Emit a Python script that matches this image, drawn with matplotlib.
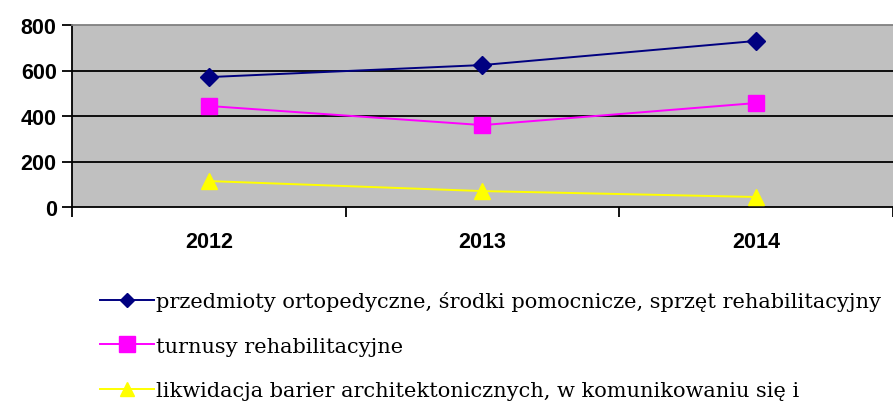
import matplotlib
matplotlib.use("Agg")
import matplotlib.pyplot as plt
from matplotlib.lines import Line2D

years = ["2012", "2013", "2014"]
ortopedyczne = [571, 624, 730]
turnusy = [444, 360, 457]
bariery = [114, 70, 44]
labels = [
    "przedmioty ortopedyczne, środki pomocnicze, sprzęt rehabilitacyjny",
    "turnusy rehabilitacyjne",
    "likwidacja barier architektonicznych, w komunikowaniu się i",
]

fig = plt.figure(figsize=(8.93, 4.10), dpi=100)
ax = fig.add_axes([72 / 893, 1 - 208 / 410, (893 - 72) / 893, 182 / 410])
ax.set_facecolor("#c0c0c0")

x = list(range(len(years)))
ax.plot(x, ortopedyczne, color="#000080", lw=1.4, marker="D", ms=9,
        mfc="#000080", mec="#000080", zorder=3)
ax.plot(x, turnusy, color="#ff00ff", lw=1.4, marker="s", ms=12,
        mfc="#ff00ff", mec="#ff00ff", zorder=3)
ax.plot(x, bariery, color="#ffff00", lw=1.4, marker="^", ms=12,
        mfc="#ffff00", mec="#ffff00", zorder=3)

ax.set_ylim(0, 800)
ax.set_yticks([0, 200, 400, 600, 800])
ax.set_xlim(-0.5, (893 - 72) / 275 - 0.5)
for yv in (200, 400, 600):
    ax.axhline(yv, color="black", lw=1.3, zorder=1)

# boundary ticks between categories, labels centered
ax.set_xticks([-0.5, 0.5, 1.5, 2.5])
ax.set_xticklabels([])
ax.set_xticks(x, minor=True)
ax.set_xticklabels(years, minor=True)
ax.tick_params(axis="x", which="minor", length=0, pad=17)
ax.tick_params(axis="x", which="major", length=7, width=1.3, direction="out")
ax.tick_params(axis="y", length=7, width=1.3, direction="out", pad=4)
for t in ax.get_yticklabels() + ax.get_xticklabels(minor=True):
    t.set_fontfamily("Liberation Sans")
    t.set_fontweight("bold")
    t.set_fontsize(15.5)

ax.spines["left"].set_linewidth(1.3)
ax.spines["bottom"].set_linewidth(1.3)
ax.spines["top"].set_color("#808080")
ax.spines["top"].set_linewidth(1.3)
ax.spines["right"].set_visible(False)

handles = [
    Line2D([], [], color="#000080", lw=1.4, marker="D", ms=7, mfc="#000080", mec="#000080"),
    Line2D([], [], color="#ff00ff", lw=1.4, marker="s", ms=11, mfc="#ff00ff", mec="#ff00ff"),
    Line2D([], [], color="#ffff00", lw=1.4, marker="^", ms=10, mfc="#ffff00", mec="#ffff00"),
]
fig.legend(handles, labels, loc="upper left", bbox_to_anchor=(100 / 893, 1 - 292 / 410),
           frameon=False, handlelength=2.6, handletextpad=0.1, labelspacing=1.23,
           borderaxespad=0, borderpad=0,
           prop={"family": "DejaVu Serif", "size": 15})

fig.savefig("out.png", dpi=100)
